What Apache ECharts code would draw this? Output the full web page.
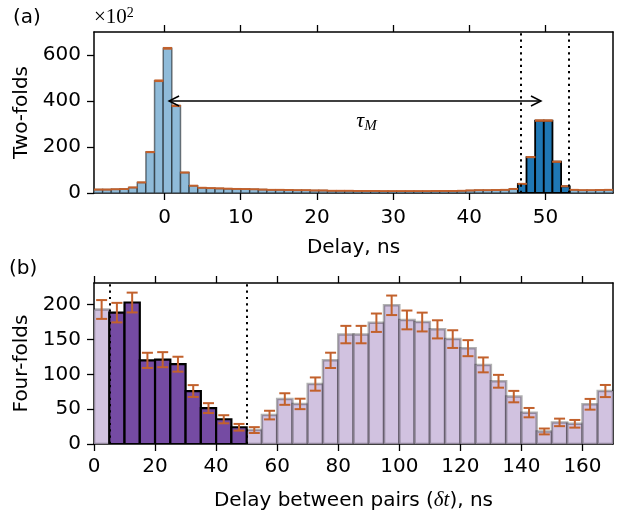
<!DOCTYPE html>
<html><head><meta charset="utf-8">
<script src="https://cdn.jsdelivr.net/npm/echarts@6/dist/echarts.min.js"></script>
<style>html,body{margin:0;padding:0;background:#fff}#c{width:618px;height:512px}</style>
</head><body><div id="c"></div><script>
// ---------- Panel (a): two-fold coincidences (x10^2) ----------
const twoFoldRange = [-9.25, 58.85];          // delay axis limits, ns
const twoFoldBinWidth = 1.135;                // ns
const twoFoldCounts = [15, 15, 16, 17, 24, 46, 178, 488, 629, 379, 89, 32, 23, 21, 20, 19, 18, 17, 16, 15,
  14, 14, 13, 12, 12, 11, 11, 10, 10, 10, 9, 9, 9, 8, 8, 8, 8, 8, 8, 9,
  9, 9, 10, 11, 12, 12, 13, 14, 18, 40, 156, 315, 315, 136, 29, 14, 12, 12, 13, 14];
const twoFoldErrors = [0.4, 0.4, 0.4, 0.4, 0.5, 0.7, 1.3, 2.2, 2.5, 1.9, 0.9, 0.6, 0.5, 0.5, 0.4, 0.4, 0.4, 0.4, 0.4, 0.4,
  0.4, 0.4, 0.4, 0.3, 0.3, 0.3, 0.3, 0.3, 0.3, 0.3, 0.3, 0.3, 0.3, 0.3, 0.3, 0.3, 0.3, 0.3, 0.3, 0.3,
  0.3, 0.3, 0.3, 0.3, 0.3, 0.3, 0.4, 0.4, 0.4, 0.6, 1.25, 1.8, 1.8, 1.2, 0.5, 0.4, 0.3, 0.3, 0.4, 0.4];
const twoFoldXTicks = [0, 10, 20, 30, 40, 50];
const twoFoldYTicks = [0, 200, 400, 600];
const twoFoldYMax = 700;
const twoFoldWindow = [46.7, 53.0];
const tauArrow = [0.6, 49.4, 400];            // from, to, level
const tauLabel = [26.5, 312];

// ---------- Panel (b): four-fold coincidences ----------
const fourFoldRange = [0, 170];
const fourFoldBinWidth = 5;
const fourFoldCounts = [193, 188.5, 203, 120, 121, 114.5, 76, 51.5, 35.5, 24, 20, 41.5, 64.5, 57.5, 86, 120, 157,
  157, 174, 199, 178, 175, 164.5, 150.5, 137.5, 113.5, 90, 68, 45, 18, 31, 29, 57, 76];
const fourFoldErrors = [13.5, 14, 14.2, 10.9, 10.8, 10.7, 8.5, 7.1, 5.8, 4.8, 4.2, 6.2, 8.3, 7.5, 9.5, 11, 12.5,
  12.5, 13.2, 14, 13.5, 13.5, 13, 12.7, 11.5, 10.7, 9.2, 8.2, 6.7, 4.2, 5.4, 5.5, 7.7, 8.7];
const fourFoldXTicks = [0, 20, 40, 60, 80, 100, 120, 140, 160];
const fourFoldYTicks = [0, 50, 100, 150, 200];
const fourFoldYMax = 231;
const fourFoldWindow = [5, 50];

// ---------- build ----------
function bins(range0, w, counts, errs) {
  return counts.map((c, i) => [range0 + i * w, range0 + (i + 1) * w, c, errs[i]]);
}
const topBins = bins(twoFoldRange[0], twoFoldBinWidth, twoFoldCounts, twoFoldErrors);
const botBins = bins(fourFoldRange[0], fourFoldBinWidth, fourFoldCounts, fourFoldErrors);
const inWin = (b, w) => { const c = (b[0] + b[1]) / 2; return c > w[0] && c < w[1]; };

function barRender(fill, stroke, lw) {
  return function (params, api) {
    const p0 = api.coord([api.value(0), 0]);
    const p1 = api.coord([api.value(1), api.value(2)]);
    return { type: 'rect', shape: { x: p0[0], y: p1[1], width: p1[0] - p0[0], height: p0[1] - p1[1] },
      style: { fill: fill, stroke: stroke, lineWidth: lw } };
  };
}
function errRender(color, capHalf, lw) {
  return function (params, api) {
    const xc = (api.value(0) + api.value(1)) / 2, v = api.value(2), e = api.value(3);
    const lo = api.coord([xc, v - e]), hi = api.coord([xc, v + e]);
    const st = { stroke: color, lineWidth: lw };
    return { type: 'group', children: [
      { type: 'line', shape: { x1: lo[0], y1: lo[1], x2: hi[0], y2: hi[1] }, style: st },
      { type: 'line', shape: { x1: lo[0] - capHalf, y1: lo[1], x2: lo[0] + capHalf, y2: lo[1] }, style: st },
      { type: 'line', shape: { x1: hi[0] - capHalf, y1: hi[1], x2: hi[0] + capHalf, y2: hi[1] }, style: st }
    ]};
  };
}
const FONT = 'DejaVu Sans';
const SERIF = 'Liberation Serif';
const FS = 20;
const ERR = '#c2612c';
const nameStyle = { fontSize: FS, color: '#000', fontFamily: FONT,
  rich: { i: { fontFamily: SERIF, fontStyle: 'italic', fontSize: 21, color: '#000' } } };
function xAxisBase(grid, range, ticks, name, gap, margin) {
  return { type: 'value', gridIndex: grid, min: range[0], max: range[1], position: 'bottom',
    axisLine: { onZero: false, lineStyle: { color: '#000', width: 1.5 } },
    axisTick: { length: 7, customValues: ticks, lineStyle: { color: '#000', width: 1.3 } },
    axisLabel: { customValues: ticks, fontSize: FS, color: '#000', fontFamily: FONT, margin: margin },
    splitLine: { show: false },
    name: name, nameLocation: 'middle', nameGap: gap, nameTextStyle: nameStyle };
}
function xAxisTop(grid, range, ticks) {
  return { type: 'value', gridIndex: grid, min: range[0], max: range[1], position: 'top',
    axisLine: { onZero: false, lineStyle: { color: '#000', width: 1.5 } },
    axisTick: { length: 7, customValues: ticks, lineStyle: { color: '#000', width: 1.3 } },
    axisLabel: { show: false }, splitLine: { show: false } };
}
function yAxisBase(grid, max, ticks, name, gap) {
  return { type: 'value', gridIndex: grid, min: 0, max: max, position: 'left',
    axisLine: { show: true, onZero: false, lineStyle: { color: '#000', width: 1.5 } },
    axisTick: { show: true, length: 7, customValues: ticks, lineStyle: { color: '#000', width: 1.3 } },
    axisLabel: { customValues: ticks, fontSize: FS, color: '#000', fontFamily: FONT, margin: 13 },
    splitLine: { show: false },
    name: name, nameLocation: 'middle', nameGap: gap, nameTextStyle: nameStyle };
}
function yAxisRight(grid, max) {
  return { type: 'value', gridIndex: grid, min: 0, max: max, position: 'right',
    axisLine: { show: true, onZero: false, lineStyle: { color: '#000', width: 1.5 } },
    axisTick: { show: false }, axisLabel: { show: false }, splitLine: { show: false } };
}
const dotted = (xs) => ({ symbol: 'none', silent: true, label: { show: false },
  lineStyle: { type: [2.2, 4.1], color: '#000', width: 2 }, data: xs.map(x => ({ xAxis: x })) });

const chart = echarts.init(document.getElementById('c'), null, { renderer: 'canvas' });
chart.setOption({
  animation: false,
  backgroundColor: '#fff',
  grid: [
    { left: 94, right: 5, top: 32, height: 161 },
    { left: 94, right: 5, top: 283, height: 163 }
  ],
  xAxis: [
    xAxisBase(0, twoFoldRange, twoFoldXTicks, 'Delay, ns', 45, 15),
    xAxisTop(0, twoFoldRange, twoFoldXTicks),
    xAxisBase(1, fourFoldRange, fourFoldXTicks, 'Delay between pairs ({i|δt}), ns', 46, 13),
    xAxisTop(1, fourFoldRange, fourFoldXTicks)
  ],
  yAxis: [
    yAxisBase(0, twoFoldYMax, twoFoldYTicks, 'Two-folds', 60),
    yAxisRight(0, twoFoldYMax),
    yAxisBase(1, fourFoldYMax, fourFoldYTicks, 'Four-folds', 60),
    yAxisRight(1, fourFoldYMax)
  ],
  series: [
    { type: 'custom', xAxisIndex: 0, yAxisIndex: 0, clip: true, encode: { x: [0, 1], y: 2 },
      data: topBins.filter(b => !inWin(b, twoFoldWindow)), renderItem: barRender('#8fbbd9', 'rgba(0,0,0,0.5)', 1.5), z: 2 },
    { type: 'custom', xAxisIndex: 0, yAxisIndex: 0, clip: true, encode: { x: [0, 1], y: 2 },
      data: topBins.filter(b => inWin(b, twoFoldWindow)), renderItem: barRender('#1f77b4', '#000', 1.8), z: 3 },
    { type: 'custom', xAxisIndex: 0, yAxisIndex: 0, clip: true, encode: { x: [0, 1], y: 2 },
      data: topBins, renderItem: errRender(ERR, 4.5, 1.6), z: 4,
      markLine: dotted(twoFoldWindow) },
    { type: 'custom', xAxisIndex: 0, yAxisIndex: 0, z: 5, data: [tauArrow.concat(tauLabel)],
      renderItem: function (params, api) {
        const a = api.coord([api.value(0), api.value(2)]);
        const b = api.coord([api.value(1), api.value(2)]);
        const t = api.coord([api.value(3), api.value(4)]);
        const st = { stroke: '#000', lineWidth: 1.5, fill: null };
        const L = 10, H = 5;
        return { type: 'group', children: [
          { type: 'line', shape: { x1: a[0], y1: a[1], x2: b[0], y2: b[1] }, style: st },
          { type: 'polyline', shape: { points: [[a[0] + L, a[1] - H], [a[0], a[1]], [a[0] + L, a[1] + H]] }, style: st },
          { type: 'polyline', shape: { points: [[b[0] - L, b[1] - H], [b[0], b[1]], [b[0] - L, b[1] + H]] }, style: st },
          { type: 'text', x: t[0], y: t[1], style: { text: '{t|τ}{s|M}', align: 'center', verticalAlign: 'middle',
            rich: { t: { fontFamily: SERIF, fontStyle: 'italic', fontSize: 22, color: '#000' },
                    s: { fontFamily: SERIF, fontStyle: 'italic', fontSize: 15, color: '#000', verticalAlign: 'bottom', padding: [9, 0, 0, 0] } } } }
        ]};
      } },
    { type: 'custom', xAxisIndex: 2, yAxisIndex: 2, clip: true, encode: { x: [0, 1], y: 2 },
      data: botBins.filter(b => !inWin(b, fourFoldWindow)), renderItem: barRender('#d1c2e0', 'rgba(0,0,0,0.3)', 2.5), z: 2 },
    { type: 'custom', xAxisIndex: 2, yAxisIndex: 2, clip: true, encode: { x: [0, 1], y: 2 },
      data: botBins.filter(b => inWin(b, fourFoldWindow)), renderItem: barRender('#754ba3', '#000', 2.2), z: 3 },
    { type: 'custom', xAxisIndex: 2, yAxisIndex: 2, clip: true, encode: { x: [0, 1], y: 2 },
      data: botBins, renderItem: errRender(ERR, 5.5, 2), z: 4,
      markLine: dotted(fourFoldWindow) }
  ],
  graphic: [
    { type: 'text', left: 13, top: 8, style: { text: '(a)', fontSize: FS, fontFamily: FONT, fill: '#000' } },
    { type: 'text', left: 9, top: 259, style: { text: '(b)', fontSize: FS, fontFamily: FONT, fill: '#000' } },
    { type: 'text', left: 94, top: 6, style: { text: '{a|×10}{b|2}',
      rich: { a: { fontFamily: SERIF, fontSize: 21, color: '#000' },
              b: { fontFamily: SERIF, fontSize: 14, color: '#000', verticalAlign: 'top', padding: [0, 0, 9, 0] } } } }
  ]
});
</script></body></html>
